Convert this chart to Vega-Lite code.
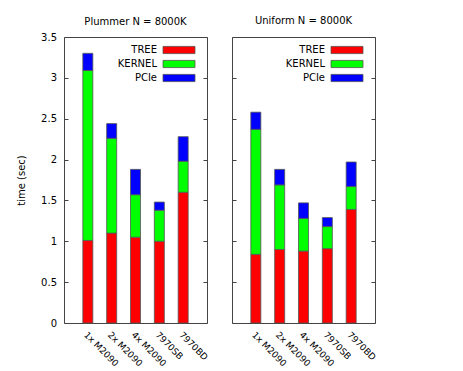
{
  "$schema": "https://vega.github.io/schema/vega-lite/v6.json",
  "padding": {"left": 16, "top": 15, "right": 5, "bottom": 5},
  "config": {
    "font": "DejaVu Sans",
    "view": {"stroke": "#444", "strokeWidth": 1},
    "axis": {"grid": false, "domain": false, "labelColor": "#000", "titleColor": "#000", "tickColor": "#444"},
    "title": {"fontSize": 10, "fontWeight": "normal", "color": "#000"},
    "legend": {"orient": "none", "legendX": 110, "legendY": 8, "title": null, "symbolType": "M-4,-0.9H4V0.9H-4Z", "symbolSize": 64, "labelAlign": "right", "labelOffset": -27, "labelFontSize": 10, "labelColor": "#000", "rowPadding": 2, "symbolStrokeColor": "#555", "symbolStrokeWidth": 0.8, "symbolOpacity": 1}
  },
  "datasets": {
    "d": [
      {"panel": "Plummer", "config": "1x M2090", "part": "TREE", "time": 1.01},
      {"panel": "Plummer", "config": "1x M2090", "part": "KERNEL", "time": 2.08},
      {"panel": "Plummer", "config": "1x M2090", "part": "PCIe", "time": 0.21},
      {"panel": "Plummer", "config": "2x M2090", "part": "TREE", "time": 1.10},
      {"panel": "Plummer", "config": "2x M2090", "part": "KERNEL", "time": 1.16},
      {"panel": "Plummer", "config": "2x M2090", "part": "PCIe", "time": 0.18},
      {"panel": "Plummer", "config": "4x M2090", "part": "TREE", "time": 1.05},
      {"panel": "Plummer", "config": "4x M2090", "part": "KERNEL", "time": 0.52},
      {"panel": "Plummer", "config": "4x M2090", "part": "PCIe", "time": 0.31},
      {"panel": "Plummer", "config": "7970SB", "part": "TREE", "time": 1.00},
      {"panel": "Plummer", "config": "7970SB", "part": "KERNEL", "time": 0.38},
      {"panel": "Plummer", "config": "7970SB", "part": "PCIe", "time": 0.10},
      {"panel": "Plummer", "config": "7970BD", "part": "TREE", "time": 1.60},
      {"panel": "Plummer", "config": "7970BD", "part": "KERNEL", "time": 0.38},
      {"panel": "Plummer", "config": "7970BD", "part": "PCIe", "time": 0.30},
      {"panel": "Uniform", "config": "1x M2090", "part": "TREE", "time": 0.84},
      {"panel": "Uniform", "config": "1x M2090", "part": "KERNEL", "time": 1.53},
      {"panel": "Uniform", "config": "1x M2090", "part": "PCIe", "time": 0.21},
      {"panel": "Uniform", "config": "2x M2090", "part": "TREE", "time": 0.90},
      {"panel": "Uniform", "config": "2x M2090", "part": "KERNEL", "time": 0.79},
      {"panel": "Uniform", "config": "2x M2090", "part": "PCIe", "time": 0.19},
      {"panel": "Uniform", "config": "4x M2090", "part": "TREE", "time": 0.88},
      {"panel": "Uniform", "config": "4x M2090", "part": "KERNEL", "time": 0.40},
      {"panel": "Uniform", "config": "4x M2090", "part": "PCIe", "time": 0.19},
      {"panel": "Uniform", "config": "7970SB", "part": "TREE", "time": 0.91},
      {"panel": "Uniform", "config": "7970SB", "part": "KERNEL", "time": 0.27},
      {"panel": "Uniform", "config": "7970SB", "part": "PCIe", "time": 0.11},
      {"panel": "Uniform", "config": "7970BD", "part": "TREE", "time": 1.39},
      {"panel": "Uniform", "config": "7970BD", "part": "KERNEL", "time": 0.28},
      {"panel": "Uniform", "config": "7970BD", "part": "PCIe", "time": 0.30}
    ]
  },
  "spacing": 21,
  "resolve": {"scale": {"color": "independent"}},
  "hconcat": [
    {
      "title": {"text": "Plummer N = 8000K", "offset": 5.5},
      "width": 143,
      "height": 286,
      "data": {"name": "d"},
      "transform": [
        {"filter": "datum.panel === 'Plummer'"},
        {"calculate": "indexof(['TREE','KERNEL','PCIe'], datum.part)", "as": "k"}
      ],
      "layer": [
        {
          "mark": {"type": "bar", "size": 10, "stroke": "#555", "strokeWidth": 0.8},
          "encoding": {
            "x": {"field": "config", "type": "nominal", "sort": null, "scale": {"type": "point", "padding": 1},
                  "axis": {"title": null, "labelAngle": 45, "labelAlign": "left", "labelBaseline": "top", "ticks": false, "labelPadding": 7, "labelFontSize": 9}},
            "y": {"field": "time", "type": "quantitative", "stack": "zero", "scale": {"domain": [0, 3.5]},
                  "axis": {"title": "time (sec)", "values": [0, 0.5, 1, 1.5, 2, 2.5, 3, 3.5], "format": "~g", "tickSize": -4, "labelPadding": 11.5, "labelFontSize": 10, "titleFontSize": 10, "titleFontWeight": "normal", "titlePadding": 14}},
            "color": {"field": "part", "type": "nominal", "scale": {"domain": ["TREE", "KERNEL", "PCIe"], "range": ["#ff0000", "#00ff00", "#0000ff"]}},
            "order": {"field": "k"}
          }
        },
        {
          "mark": {"type": "rule", "opacity": 0},
          "encoding": {
            "y": {"datum": 0, "type": "quantitative", "axis": {"orient": "right", "labels": false, "title": null, "tickSize": -4, "values": [0, 0.5, 1, 1.5, 2, 2.5, 3, 3.5]}}
          }
        }
      ],
      "resolve": {"axis": {"y": "independent"}}
    },
    {
      "title": {"text": "Uniform N = 8000K", "offset": 10.5},
      "width": 143,
      "height": 286,
      "data": {"name": "d"},
      "transform": [
        {"filter": "datum.panel === 'Uniform'"},
        {"calculate": "indexof(['TREE','KERNEL','PCIe'], datum.part)", "as": "k"}
      ],
      "layer": [
        {
          "mark": {"type": "bar", "size": 10, "stroke": "#555", "strokeWidth": 0.8},
          "encoding": {
            "x": {"field": "config", "type": "nominal", "sort": null, "scale": {"type": "point", "padding": 1},
                  "axis": {"title": null, "labelAngle": 45, "labelAlign": "left", "labelBaseline": "top", "ticks": false, "labelPadding": 7, "labelFontSize": 9}},
            "y": {"field": "time", "type": "quantitative", "stack": "zero", "scale": {"domain": [0, 3.5]},
                  "axis": {"title": null, "labels": false, "values": [0, 0.5, 1, 1.5, 2, 2.5, 3, 3.5], "tickSize": -4}},
            "color": {"field": "part", "type": "nominal", "scale": {"domain": ["TREE", "KERNEL", "PCIe"], "range": ["#ff0000", "#00ff00", "#0000ff"]}},
            "order": {"field": "k"}
          }
        },
        {
          "mark": {"type": "rule", "opacity": 0},
          "encoding": {
            "y": {"datum": 0, "type": "quantitative", "axis": {"orient": "right", "labels": false, "title": null, "tickSize": -4, "values": [0, 0.5, 1, 1.5, 2, 2.5, 3, 3.5]}}
          }
        }
      ],
      "resolve": {"axis": {"y": "independent"}}
    }
  ]
}
